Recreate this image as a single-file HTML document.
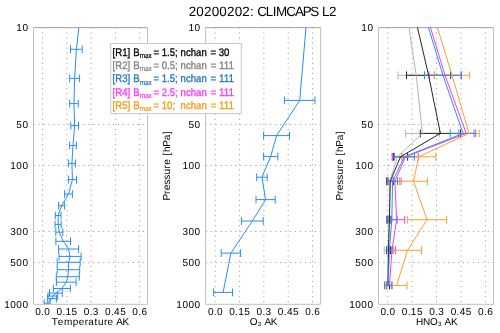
<!DOCTYPE html><html><head><meta charset="utf-8"><style>html,body{margin:0;padding:0;background:#fff;overflow:hidden}svg{display:block;will-change:transform}text{font-family:"Liberation Sans",sans-serif;text-rendering:geometricPrecision}</style></head><body>
<svg width="500" height="333" viewBox="0 0 500 333">
<rect width="500" height="333" fill="#fff"/>
<defs>
<clipPath id="c0"><rect x="33.5" y="27.6" width="114" height="276.7"/></clipPath>
<clipPath id="c1"><rect x="205.6" y="27.6" width="115" height="276.7"/></clipPath>
<clipPath id="c2"><rect x="378.5" y="27.6" width="115" height="276.7"/></clipPath>
</defs>
<line x1="42.5" y1="27.3" x2="42.5" y2="304.3" stroke="#ababab" stroke-width="1.0" stroke-dasharray="1.3 3.77"/>
<line x1="66.8" y1="27.3" x2="66.8" y2="304.3" stroke="#ababab" stroke-width="1.0" stroke-dasharray="1.3 3.77"/>
<line x1="91.1" y1="27.3" x2="91.1" y2="304.3" stroke="#ababab" stroke-width="1.0" stroke-dasharray="1.3 3.77"/>
<line x1="115.4" y1="27.3" x2="115.4" y2="304.3" stroke="#ababab" stroke-width="1.0" stroke-dasharray="1.3 3.77"/>
<line x1="139.7" y1="27.3" x2="139.7" y2="304.3" stroke="#ababab" stroke-width="1.0" stroke-dasharray="1.3 3.77"/>
<line x1="33.5" y1="124.5" x2="147.5" y2="124.5" stroke="#ababab" stroke-width="1.0" stroke-dasharray="1.3 3.66"/>
<line x1="33.5" y1="165.5" x2="147.5" y2="165.5" stroke="#ababab" stroke-width="1.0" stroke-dasharray="1.3 3.66"/>
<line x1="33.5" y1="231.5" x2="147.5" y2="231.5" stroke="#ababab" stroke-width="1.0" stroke-dasharray="1.3 3.66"/>
<line x1="33.5" y1="262.5" x2="147.5" y2="262.5" stroke="#ababab" stroke-width="1.0" stroke-dasharray="1.3 3.66"/>
<line x1="33.5" y1="27.6" x2="147.5" y2="27.6" stroke="#a2a2a2" stroke-width="1.0" />
<path d="M33.5,27.6V304.3H147.5V27.6" fill="none" stroke="#c0c0c0" stroke-width="1"/>
<line x1="215.25" y1="27.3" x2="215.25" y2="304.3" stroke="#ababab" stroke-width="1.0" stroke-dasharray="1.3 3.77"/>
<line x1="239.56" y1="27.3" x2="239.56" y2="304.3" stroke="#ababab" stroke-width="1.0" stroke-dasharray="1.3 3.77"/>
<line x1="263.88" y1="27.3" x2="263.88" y2="304.3" stroke="#ababab" stroke-width="1.0" stroke-dasharray="1.3 3.77"/>
<line x1="288.19" y1="27.3" x2="288.19" y2="304.3" stroke="#ababab" stroke-width="1.0" stroke-dasharray="1.3 3.77"/>
<line x1="312.5" y1="27.3" x2="312.5" y2="304.3" stroke="#ababab" stroke-width="1.0" stroke-dasharray="1.3 3.77"/>
<line x1="205.6" y1="124.5" x2="320.6" y2="124.5" stroke="#ababab" stroke-width="1.0" stroke-dasharray="1.3 3.66"/>
<line x1="205.6" y1="165.5" x2="320.6" y2="165.5" stroke="#ababab" stroke-width="1.0" stroke-dasharray="1.3 3.66"/>
<line x1="205.6" y1="231.5" x2="320.6" y2="231.5" stroke="#ababab" stroke-width="1.0" stroke-dasharray="1.3 3.66"/>
<line x1="205.6" y1="262.5" x2="320.6" y2="262.5" stroke="#ababab" stroke-width="1.0" stroke-dasharray="1.3 3.66"/>
<line x1="205.6" y1="27.6" x2="320.6" y2="27.6" stroke="#a2a2a2" stroke-width="1.0" />
<path d="M205.6,27.6V304.3H320.6V27.6" fill="none" stroke="#c0c0c0" stroke-width="1"/>
<line x1="387.75" y1="27.3" x2="387.75" y2="304.3" stroke="#ababab" stroke-width="1.0" stroke-dasharray="1.3 3.77"/>
<line x1="412.16" y1="27.3" x2="412.16" y2="304.3" stroke="#ababab" stroke-width="1.0" stroke-dasharray="1.3 3.77"/>
<line x1="436.57" y1="27.3" x2="436.57" y2="304.3" stroke="#ababab" stroke-width="1.0" stroke-dasharray="1.3 3.77"/>
<line x1="460.99" y1="27.3" x2="460.99" y2="304.3" stroke="#ababab" stroke-width="1.0" stroke-dasharray="1.3 3.77"/>
<line x1="485.4" y1="27.3" x2="485.4" y2="304.3" stroke="#ababab" stroke-width="1.0" stroke-dasharray="1.3 3.77"/>
<line x1="378.5" y1="124.5" x2="493.5" y2="124.5" stroke="#ababab" stroke-width="1.0" stroke-dasharray="1.3 3.66"/>
<line x1="378.5" y1="165.5" x2="493.5" y2="165.5" stroke="#ababab" stroke-width="1.0" stroke-dasharray="1.3 3.66"/>
<line x1="378.5" y1="231.5" x2="493.5" y2="231.5" stroke="#ababab" stroke-width="1.0" stroke-dasharray="1.3 3.66"/>
<line x1="378.5" y1="262.5" x2="493.5" y2="262.5" stroke="#ababab" stroke-width="1.0" stroke-dasharray="1.3 3.66"/>
<line x1="378.5" y1="27.6" x2="493.5" y2="27.6" stroke="#a2a2a2" stroke-width="1.0" />
<path d="M378.5,27.6V304.3H493.5V27.6" fill="none" stroke="#c0c0c0" stroke-width="1"/>
<path d="M70.5,49.3H82.2M70.5,45.4V53.2M82.2,45.4V53.2" fill="none" stroke="#2b8ef0" stroke-width="1.0" clip-path="url(#c0)"/>
<path d="M69.7,78.4H79.6M69.7,74.5V82.3M79.6,74.5V82.3" fill="none" stroke="#2b8ef0" stroke-width="1.0" clip-path="url(#c0)"/>
<path d="M69.7,103.6H78.2M69.7,99.7V107.5M78.2,99.7V107.5" fill="none" stroke="#2b8ef0" stroke-width="1.0" clip-path="url(#c0)"/>
<path d="M70.8,125.6H78.5M70.8,121.7V129.5M78.5,121.7V129.5" fill="none" stroke="#2b8ef0" stroke-width="1.0" clip-path="url(#c0)"/>
<path d="M69.6,145.4H76.4M69.6,141.5V149.3M76.4,141.5V149.3" fill="none" stroke="#2b8ef0" stroke-width="1.0" clip-path="url(#c0)"/>
<path d="M68.4,163.4H75.4M68.4,159.5V167.3M75.4,159.5V167.3" fill="none" stroke="#2b8ef0" stroke-width="1.0" clip-path="url(#c0)"/>
<path d="M68.4,179.6H76.5M68.4,175.7V183.5M76.5,175.7V183.5" fill="none" stroke="#2b8ef0" stroke-width="1.0" clip-path="url(#c0)"/>
<path d="M64.6,194H72.4M64.6,190.1V197.9M72.4,190.1V197.9" fill="none" stroke="#2b8ef0" stroke-width="1.0" clip-path="url(#c0)"/>
<path d="M58.6,205.7H64.6M58.6,201.8V209.6M64.6,201.8V209.6" fill="none" stroke="#2b8ef0" stroke-width="1.0" clip-path="url(#c0)"/>
<path d="M55.3,215.5H61M55.3,211.6V219.4M61,211.6V219.4" fill="none" stroke="#2b8ef0" stroke-width="1.0" clip-path="url(#c0)"/>
<path d="M55,224.4H61.2M55,220.5V228.3M61.2,220.5V228.3" fill="none" stroke="#2b8ef0" stroke-width="1.0" clip-path="url(#c0)"/>
<path d="M55.8,232.2H62.8M55.8,228.3V236.1M62.8,228.3V236.1" fill="none" stroke="#2b8ef0" stroke-width="1.0" clip-path="url(#c0)"/>
<path d="M55.9,241.3H70.5M55.9,237.4V245.2M70.5,237.4V245.2" fill="none" stroke="#2b8ef0" stroke-width="1.0" clip-path="url(#c0)"/>
<path d="M58.6,249H78.6M58.6,245.1V252.9M78.6,245.1V252.9" fill="none" stroke="#2b8ef0" stroke-width="1.0" clip-path="url(#c0)"/>
<path d="M59,256.4H81.1M59,252.5V260.3M81.1,252.5V260.3" fill="none" stroke="#2b8ef0" stroke-width="1.0" clip-path="url(#c0)"/>
<path d="M57.2,262.3H80.2M57.2,258.4V266.2M80.2,258.4V266.2" fill="none" stroke="#2b8ef0" stroke-width="1.0" clip-path="url(#c0)"/>
<path d="M57.2,269.7H79.7M57.2,265.8V273.6M79.7,265.8V273.6" fill="none" stroke="#2b8ef0" stroke-width="1.0" clip-path="url(#c0)"/>
<path d="M56.3,276.7H79.3M56.3,272.8V280.6M79.3,272.8V280.6" fill="none" stroke="#2b8ef0" stroke-width="1.0" clip-path="url(#c0)"/>
<path d="M56.4,282.2H76.1M56.4,278.3V286.1M76.1,278.3V286.1" fill="none" stroke="#2b8ef0" stroke-width="1.0" clip-path="url(#c0)"/>
<path d="M53.3,288.5H70.3M53.3,284.6V292.4M70.3,284.6V292.4" fill="none" stroke="#2b8ef0" stroke-width="1.0" clip-path="url(#c0)"/>
<path d="M49.5,293.1H62.3M49.5,289.2V297M62.3,289.2V297" fill="none" stroke="#2b8ef0" stroke-width="1.0" clip-path="url(#c0)"/>
<path d="M48,296H57.7M48,292.1V299.9M57.7,292.1V299.9" fill="none" stroke="#2b8ef0" stroke-width="1.0" clip-path="url(#c0)"/>
<path d="M47.6,298.6H56.4M47.6,294.7V302.5M56.4,294.7V302.5" fill="none" stroke="#2b8ef0" stroke-width="1.0" clip-path="url(#c0)"/>
<path d="M44.2,303.2H50.1M44.2,299.3V307.1M50.1,299.3V307.1" fill="none" stroke="#2b8ef0" stroke-width="1.0" clip-path="url(#c0)"/>
<polyline points="79.8,20 76.35,49.3 74.65,78.4 73.95,103.6 74.65,125.6 73,145.4 71.9,163.4 72.45,179.6 68.5,194 61.6,205.7 58.15,215.5 58.1,224.4 59.3,232.2 63.2,241.3 68.6,249 70.05,256.4 68.7,262.3 68.45,269.7 67.8,276.7 66.25,282.2 61.8,288.5 55.9,293.1 52.85,296 52,298.6 47.15,303.2" fill="none" stroke="#2b8ef0" stroke-width="1.0" stroke-linejoin="round" clip-path="url(#c0)"/>
<path d="M284.4,100.4H315M284.4,96.5V104.3M315,96.5V104.3" fill="none" stroke="#2b8ef0" stroke-width="1.0" clip-path="url(#c1)"/>
<path d="M263.6,135.6H289.5M263.6,131.7V139.5M289.5,131.7V139.5" fill="none" stroke="#2b8ef0" stroke-width="1.0" clip-path="url(#c1)"/>
<path d="M263.6,156.6H277.8M263.6,152.7V160.5M277.8,152.7V160.5" fill="none" stroke="#2b8ef0" stroke-width="1.0" clip-path="url(#c1)"/>
<path d="M256.7,177.2H267.2M256.7,173.3V181.1M267.2,173.3V181.1" fill="none" stroke="#2b8ef0" stroke-width="1.0" clip-path="url(#c1)"/>
<path d="M256,199.6H275.2M256,195.7V203.5M275.2,195.7V203.5" fill="none" stroke="#2b8ef0" stroke-width="1.0" clip-path="url(#c1)"/>
<path d="M241.5,221H263.2M241.5,217.1V224.9M263.2,217.1V224.9" fill="none" stroke="#2b8ef0" stroke-width="1.0" clip-path="url(#c1)"/>
<path d="M221.2,253.1H240.6M221.2,249.2V257M240.6,249.2V257" fill="none" stroke="#2b8ef0" stroke-width="1.0" clip-path="url(#c1)"/>
<path d="M213.6,292.4H232.6M213.6,288.5V296.3M232.6,288.5V296.3" fill="none" stroke="#2b8ef0" stroke-width="1.0" clip-path="url(#c1)"/>
<polyline points="306.65,20 299.7,100.4 276.55,135.6 270.7,156.6 261.95,177.2 265.6,199.6 252.35,221 230.9,253.1 223.1,292.4" fill="none" stroke="#2b8ef0" stroke-width="1.0" stroke-linejoin="round" clip-path="url(#c1)"/>
<path d="M398,75.3H434.4M398,71.4V79.2M434.4,71.4V79.2" fill="none" stroke="#b4b4b4" stroke-width="1.0" clip-path="url(#c2)"/>
<path d="M405.4,133.4H439.4M405.4,129.5V137.3M439.4,129.5V137.3" fill="none" stroke="#b4b4b4" stroke-width="1.0" clip-path="url(#c2)"/>
<path d="M391.8,156.8H403M391.8,152.9V160.7M403,152.9V160.7" fill="none" stroke="#b4b4b4" stroke-width="1.0" clip-path="url(#c2)"/>
<path d="M386.8,181.25H392.8M386.8,177.35V185.15M392.8,177.35V185.15" fill="none" stroke="#b4b4b4" stroke-width="1.0" clip-path="url(#c2)"/>
<path d="M386.7,219.7H391.7M386.7,215.8V223.6M391.7,215.8V223.6" fill="none" stroke="#b4b4b4" stroke-width="1.0" clip-path="url(#c2)"/>
<path d="M384.2,250.25H391.8M384.2,246.35V254.15M391.8,246.35V254.15" fill="none" stroke="#b4b4b4" stroke-width="1.0" clip-path="url(#c2)"/>
<path d="M385.8,285.4H389.8M385.8,281.5V289.3M389.8,281.5V289.3" fill="none" stroke="#b4b4b4" stroke-width="1.0" clip-path="url(#c2)"/>
<path d="M406.5,75.3H450.7M406.5,71.4V79.2M450.7,71.4V79.2" fill="none" stroke="#262626" stroke-width="1.0" clip-path="url(#c2)"/>
<path d="M420.3,133.4H460.5M420.3,129.5V137.3M460.5,129.5V137.3" fill="none" stroke="#262626" stroke-width="1.0" clip-path="url(#c2)"/>
<path d="M393.4,156.8H407.6M393.4,152.9V160.7M407.6,152.9V160.7" fill="none" stroke="#262626" stroke-width="1.0" clip-path="url(#c2)"/>
<path d="M386.8,181.25H393.8M386.8,177.35V185.15M393.8,177.35V185.15" fill="none" stroke="#262626" stroke-width="1.0" clip-path="url(#c2)"/>
<path d="M387.9,219.7H390.9M387.9,215.8V223.6M390.9,215.8V223.6" fill="none" stroke="#262626" stroke-width="1.0" clip-path="url(#c2)"/>
<path d="M386.5,250.25H390.5M386.5,246.35V254.15M390.5,246.35V254.15" fill="none" stroke="#262626" stroke-width="1.0" clip-path="url(#c2)"/>
<path d="M386.5,285.4H389.5M386.5,281.5V289.3M389.5,281.5V289.3" fill="none" stroke="#262626" stroke-width="1.0" clip-path="url(#c2)"/>
<path d="M429,75.3H461M429,71.4V79.2M461,71.4V79.2" fill="none" stroke="#f63af6" stroke-width="1.0" clip-path="url(#c2)"/>
<path d="M458.4,133.4H474M458.4,129.5V137.3M474,129.5V137.3" fill="none" stroke="#f63af6" stroke-width="1.0" clip-path="url(#c2)"/>
<path d="M392.6,156.8H418.4M392.6,152.9V160.7M418.4,152.9V160.7" fill="none" stroke="#f63af6" stroke-width="1.0" clip-path="url(#c2)"/>
<path d="M388.7,181.25H401.1M388.7,177.35V185.15M401.1,177.35V185.15" fill="none" stroke="#f63af6" stroke-width="1.0" clip-path="url(#c2)"/>
<path d="M388.6,219.7H404.6M388.6,215.8V223.6M404.6,215.8V223.6" fill="none" stroke="#f63af6" stroke-width="1.0" clip-path="url(#c2)"/>
<path d="M388.4,250.25H395.6M388.4,246.35V254.15M395.6,246.35V254.15" fill="none" stroke="#f63af6" stroke-width="1.0" clip-path="url(#c2)"/>
<path d="M386.9,285.4H391.9M386.9,281.5V289.3M391.9,281.5V289.3" fill="none" stroke="#f63af6" stroke-width="1.0" clip-path="url(#c2)"/>
<path d="M434.3,75.3H469.7M434.3,71.4V79.2M469.7,71.4V79.2" fill="none" stroke="#f7a12e" stroke-width="1.0" clip-path="url(#c2)"/>
<path d="M458.8,133.4H479.2M458.8,129.5V137.3M479.2,129.5V137.3" fill="none" stroke="#f7a12e" stroke-width="1.0" clip-path="url(#c2)"/>
<path d="M401.4,156.8H435.8M401.4,152.9V160.7M435.8,152.9V160.7" fill="none" stroke="#f7a12e" stroke-width="1.0" clip-path="url(#c2)"/>
<path d="M399.5,181.25H427.5M399.5,177.35V185.15M427.5,177.35V185.15" fill="none" stroke="#f7a12e" stroke-width="1.0" clip-path="url(#c2)"/>
<path d="M407.3,219.7H446.7M407.3,215.8V223.6M446.7,215.8V223.6" fill="none" stroke="#f7a12e" stroke-width="1.0" clip-path="url(#c2)"/>
<path d="M393.5,250.25H421.5M393.5,246.35V254.15M421.5,246.35V254.15" fill="none" stroke="#f7a12e" stroke-width="1.0" clip-path="url(#c2)"/>
<path d="M386.2,285.4H407M386.2,281.5V289.3M407,281.5V289.3" fill="none" stroke="#f7a12e" stroke-width="1.0" clip-path="url(#c2)"/>
<path d="M424.5,75.3H461.5M424.5,71.4V79.2M461.5,71.4V79.2" fill="none" stroke="#2b8ef0" stroke-width="1.0" clip-path="url(#c2)"/>
<path d="M450.25,133.4H475.75M450.25,129.5V137.3M475.75,129.5V137.3" fill="none" stroke="#2b8ef0" stroke-width="1.0" clip-path="url(#c2)"/>
<path d="M394.4,156.8H414.4M394.4,152.9V160.7M414.4,152.9V160.7" fill="none" stroke="#2b8ef0" stroke-width="1.0" clip-path="url(#c2)"/>
<path d="M387.7,181.25H397.5M387.7,177.35V185.15M397.5,177.35V185.15" fill="none" stroke="#2b8ef0" stroke-width="1.0" clip-path="url(#c2)"/>
<path d="M386.5,219.7H397.1M386.5,215.8V223.6M397.1,215.8V223.6" fill="none" stroke="#2b8ef0" stroke-width="1.0" clip-path="url(#c2)"/>
<path d="M386.8,250.25H392M386.8,246.35V254.15M392,246.35V254.15" fill="none" stroke="#2b8ef0" stroke-width="1.0" clip-path="url(#c2)"/>
<path d="M384.45,285.4H391.95M384.45,281.5V289.3M391.95,281.5V289.3" fill="none" stroke="#2b8ef0" stroke-width="1.0" clip-path="url(#c2)"/>
<polyline points="407.85,20 416.2,75.3 422.4,133.4 397.4,156.8 389.8,181.25 389.2,219.7 388,250.25 387.8,285.4" fill="none" stroke="#b4b4b4" stroke-width="1.0" stroke-linejoin="round" clip-path="url(#c2)"/>
<polyline points="415.73,20 428.6,75.3 440.4,133.4 400.5,156.8 390.3,181.25 389.4,219.7 388.5,250.25 388,285.4" fill="none" stroke="#262626" stroke-width="1.0" stroke-linejoin="round" clip-path="url(#c2)"/>
<polyline points="428.19,20 445,75.3 466.2,133.4 405.5,156.8 394.9,181.25 396.6,219.7 392,250.25 389.4,285.4" fill="none" stroke="#f63af6" stroke-width="1.0" stroke-linejoin="round" clip-path="url(#c2)"/>
<polyline points="435.19,20 452,75.3 469,133.4 418.6,156.8 413.5,181.25 427,219.7 407.5,250.25 396.6,285.4" fill="none" stroke="#f7a12e" stroke-width="1.0" stroke-linejoin="round" clip-path="url(#c2)"/>
<polyline points="426.19,20 443,75.3 463,133.4 404.4,156.8 392.6,181.25 391.8,219.7 389.4,250.25 388.2,285.4" fill="none" stroke="#2b8ef0" stroke-width="1.0" stroke-linejoin="round" clip-path="url(#c2)"/>
<text x="16.33 22.38" y="31.25" font-size="10.07" fill="#000" >10</text>
<text x="16.33 22.38" y="127.81" font-size="10.07" fill="#000" >50</text>
<text x="10.29 16.33 22.38" y="169.4" font-size="10.07" fill="#000" >100</text>
<text x="10.29 16.33 22.38" y="235.31" font-size="10.07" fill="#000" >300</text>
<text x="10.29 16.33 22.38" y="265.96" font-size="10.07" fill="#000" >500</text>
<text x="4.25 10.29 16.33 22.38" y="307.55" font-size="10.07" fill="#000" >1000</text>
<text x="35.17 41.1 44.23" y="314.6" font-size="10.07" fill="#000" >0.0</text>
<text x="56.45 62.38 65.51 71.55" y="314.6" font-size="10.07" fill="#000" >0.15</text>
<text x="83.77 89.7 92.83" y="314.6" font-size="10.07" fill="#000" >0.3</text>
<text x="105.05 110.98 114.11 120.15" y="314.6" font-size="10.07" fill="#000" >0.45</text>
<text x="132.37 138.3 141.43" y="314.6" font-size="10.07" fill="#000" >0.6</text>
<text x="188.43 194.48" y="31.25" font-size="10.07" fill="#000" >10</text>
<text x="188.43 194.48" y="127.81" font-size="10.07" fill="#000" >50</text>
<text x="182.39 188.43 194.48" y="169.4" font-size="10.07" fill="#000" >100</text>
<text x="182.39 188.43 194.48" y="235.31" font-size="10.07" fill="#000" >300</text>
<text x="182.39 188.43 194.48" y="265.96" font-size="10.07" fill="#000" >500</text>
<text x="176.35 182.39 188.43 194.48" y="307.55" font-size="10.07" fill="#000" >1000</text>
<text x="207.92 213.85 216.98" y="314.6" font-size="10.07" fill="#000" >0.0</text>
<text x="229.21 235.14 238.27 244.32" y="314.6" font-size="10.07" fill="#000" >0.15</text>
<text x="256.54 262.48 265.61" y="314.6" font-size="10.07" fill="#000" >0.3</text>
<text x="277.83 283.77 286.9 292.94" y="314.6" font-size="10.07" fill="#000" >0.45</text>
<text x="305.17 311.1 314.23" y="314.6" font-size="10.07" fill="#000" >0.6</text>
<text x="361.33 367.38" y="31.25" font-size="10.07" fill="#000" >10</text>
<text x="361.33 367.38" y="127.81" font-size="10.07" fill="#000" >50</text>
<text x="355.29 361.33 367.38" y="169.4" font-size="10.07" fill="#000" >100</text>
<text x="355.29 361.33 367.38" y="235.31" font-size="10.07" fill="#000" >300</text>
<text x="355.29 361.33 367.38" y="265.96" font-size="10.07" fill="#000" >500</text>
<text x="349.25 355.29 361.33 367.38" y="307.55" font-size="10.07" fill="#000" >1000</text>
<text x="380.42 386.35 389.48" y="314.6" font-size="10.07" fill="#000" >0.0</text>
<text x="401.81 407.74 410.87 416.92" y="314.6" font-size="10.07" fill="#000" >0.15</text>
<text x="429.24 435.18 438.31" y="314.6" font-size="10.07" fill="#000" >0.3</text>
<text x="450.63 456.57 459.7 465.74" y="314.6" font-size="10.07" fill="#000" >0.45</text>
<text x="478.07 484 487.13" y="314.6" font-size="10.07" fill="#000" >0.6</text>
<text x="51.76 57.8 63.89 72.83 78.7 84.64 88.34 94.45 97.89 103.91 107.62 113.39 116.16 122.46" y="324.6" font-size="9.96" fill="#000" >Temperature AK</text>
<text x="249.82" y="324.6" font-size="9.96" fill="#000" >O</text>
<text x="257.73" y="326.3" font-size="6.18" fill="#000" >3</text>
<text x="261.62 264.39 270.68" y="324.6" font-size="9.96" fill="#000" > AK</text>
<text x="416.04 423.09 430.02" y="324.6" font-size="9.96" fill="#000" >HNO</text>
<text x="437.93" y="326.3" font-size="6.18" fill="#000" >3</text>
<text x="441.82 444.59 450.88" y="324.6" font-size="9.96" fill="#000" > AK</text>
<g transform="translate(169.9,165.5) rotate(-90)">
<text x="-35.07 -28.57 -24.82 -19.14 -14.19 -8.99 -2.9 0.85 6.68 10.05 13.51 18.83 25.16 31.32" y="0" font-size="10.07" fill="#000" >Pressure [hPa]</text>
</g>
<g transform="translate(342.7,165.5) rotate(-90)">
<text x="-35.07 -28.57 -24.82 -19.14 -14.19 -8.99 -2.9 0.85 6.68 10.05 13.51 18.83 25.16 31.32" y="0" font-size="10.07" fill="#000" >Pressure [hPa]</text>
</g>
<text x="188.67 196.34 204.01 211.67 219.34 227.01 234.67 242.34 250.06 254.01 257.16 265.83 272.83 276.09 286.24 294.93 302.69 310.15 318.49 321.9 329.09" y="15.7" font-size="13.38" fill="#000" >20200202: CLIMCAPS L2</text>
<rect x="110.7" y="43.5" width="130.6" height="70.1" fill="#fff" stroke="#c8c8c8" stroke-width="1"/>
<text transform="translate(112.6,55.6) scale(0.88,1)" fill="#000000" stroke="#000000" stroke-width="0.3" font-size="10.9">[R1]</text>
<text transform="translate(133.3,55.6) scale(0.88,1)" fill="#000000" stroke="#000000" stroke-width="0.3" font-size="10.9">B</text>
<text transform="translate(139.7,58) scale(0.86,1)" fill="#000000" stroke="#000000" stroke-width="0.2" font-size="7.4">max</text>
<text transform="translate(153.5,55.6) scale(0.88,1)" fill="#000000" stroke="#000000" stroke-width="0.3" font-size="10.9">= 1.5;</text>
<text transform="translate(180.6,55.6) scale(0.88,1)" fill="#000000" stroke="#000000" stroke-width="0.3" font-size="10.9">nchan</text>
<text transform="translate(210.4,55.6) scale(0.88,1)" fill="#000000" stroke="#000000" stroke-width="0.3" font-size="10.9">= 30</text>
<text transform="translate(112.6,68.95) scale(0.88,1)" fill="#808080" stroke="#808080" stroke-width="0.3" font-size="10.9">[R2]</text>
<text transform="translate(133.3,68.95) scale(0.88,1)" fill="#808080" stroke="#808080" stroke-width="0.3" font-size="10.9">B</text>
<text transform="translate(139.7,71.35) scale(0.86,1)" fill="#808080" stroke="#808080" stroke-width="0.2" font-size="7.4">max</text>
<text transform="translate(153.5,68.95) scale(0.88,1)" fill="#808080" stroke="#808080" stroke-width="0.3" font-size="10.9">= 0.5;</text>
<text transform="translate(180.6,68.95) scale(0.88,1)" fill="#808080" stroke="#808080" stroke-width="0.3" font-size="10.9">nchan</text>
<text transform="translate(210.4,68.95) scale(0.905,1)" fill="#808080" stroke="#808080" stroke-width="0.3" font-size="10.9">= 111</text>
<text transform="translate(112.6,82.3) scale(0.88,1)" fill="#1f74c0" stroke="#1f74c0" stroke-width="0.3" font-size="10.9">[R3]</text>
<text transform="translate(133.3,82.3) scale(0.88,1)" fill="#1f74c0" stroke="#1f74c0" stroke-width="0.3" font-size="10.9">B</text>
<text transform="translate(139.7,84.7) scale(0.86,1)" fill="#1f74c0" stroke="#1f74c0" stroke-width="0.2" font-size="7.4">max</text>
<text transform="translate(153.5,82.3) scale(0.88,1)" fill="#1f74c0" stroke="#1f74c0" stroke-width="0.3" font-size="10.9">= 1.5;</text>
<text transform="translate(180.6,82.3) scale(0.88,1)" fill="#1f74c0" stroke="#1f74c0" stroke-width="0.3" font-size="10.9">nchan</text>
<text transform="translate(210.4,82.3) scale(0.905,1)" fill="#1f74c0" stroke="#1f74c0" stroke-width="0.3" font-size="10.9">= 111</text>
<text transform="translate(112.6,95.65) scale(0.88,1)" fill="#ff33ff" stroke="#ff33ff" stroke-width="0.3" font-size="10.9">[R4]</text>
<text transform="translate(133.3,95.65) scale(0.88,1)" fill="#ff33ff" stroke="#ff33ff" stroke-width="0.3" font-size="10.9">B</text>
<text transform="translate(139.7,98.05) scale(0.86,1)" fill="#ff33ff" stroke="#ff33ff" stroke-width="0.2" font-size="7.4">max</text>
<text transform="translate(153.5,95.65) scale(0.88,1)" fill="#ff33ff" stroke="#ff33ff" stroke-width="0.3" font-size="10.9">= 2.5;</text>
<text transform="translate(180.6,95.65) scale(0.88,1)" fill="#ff33ff" stroke="#ff33ff" stroke-width="0.3" font-size="10.9">nchan</text>
<text transform="translate(210.4,95.65) scale(0.905,1)" fill="#ff33ff" stroke="#ff33ff" stroke-width="0.3" font-size="10.9">= 111</text>
<text transform="translate(112.6,109) scale(0.88,1)" fill="#f59a10" stroke="#f59a10" stroke-width="0.3" font-size="10.9">[R5]</text>
<text transform="translate(133.3,109) scale(0.88,1)" fill="#f59a10" stroke="#f59a10" stroke-width="0.3" font-size="10.9">B</text>
<text transform="translate(139.7,111.4) scale(0.86,1)" fill="#f59a10" stroke="#f59a10" stroke-width="0.2" font-size="7.4">max</text>
<text transform="translate(153.5,109) scale(0.88,1)" fill="#f59a10" stroke="#f59a10" stroke-width="0.3" font-size="10.9">= 10;</text>
<text transform="translate(180.6,109) scale(0.88,1)" fill="#f59a10" stroke="#f59a10" stroke-width="0.3" font-size="10.9">nchan</text>
<text transform="translate(210.4,109) scale(0.905,1)" fill="#f59a10" stroke="#f59a10" stroke-width="0.3" font-size="10.9">= 111</text>
</svg></body></html>
